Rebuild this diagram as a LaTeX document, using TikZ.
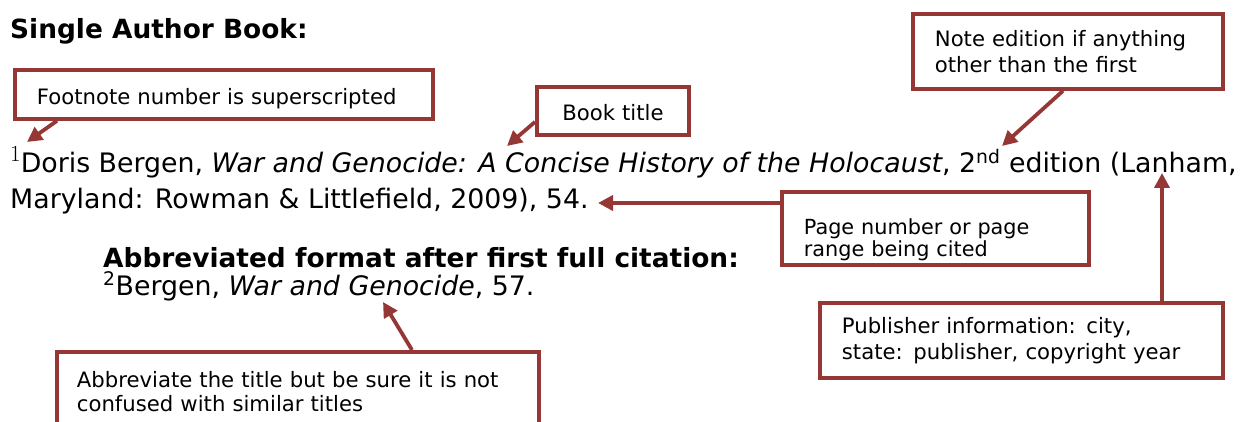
\documentclass[tikz,border=0pt]{standalone}
\usepackage{fontspec}
\usepackage{tikz}
\usetikzlibrary{arrows.meta, positioning}
\newfontfamily\vfont{DejaVu Sans}
\definecolor{notered}{RGB}{149, 55, 53}

\begin{document}
\begin{tikzpicture}[x=1pt, y=-1pt,
    note/.style={draw=notered, line width=3.8pt, anchor=north west, inner ysep=0pt, align=left, font=\vfont\fontsize{21.2}{26}\selectfont},
    cite/.style={anchor=base west, inner sep=0pt, font=\vfont\fontsize{26.8}{32}\selectfont},
    head/.style={anchor=base west, inner sep=0pt, font=\vfont\fontsize{26.4}{32}\selectfont\bfseries},
    pointer/.style={-{Triangle[length=15pt, width=15pt]}, line width=3.8pt, notered}
]
\clip (0,0) rectangle (1241,422);

% Headings
\node[head] (title) at (10,39) {Single Author Book:};
\node[head] (abbrhead) at (103,267) {Abbreviated format after first full citation:};

% Citation text
\node[cite] (cite1) at (10,173) {{\rmfamily\fontsize{23}{23}\selectfont\raisebox{11pt}{1}}Doris Bergen, \textit{War and Genocide: A Concise History of the Holocaust}, 2\textsuperscript{nd} edition (Lanham,};
\node[cite] (cite2) at (10,208) {Maryland: Rowman \& Littlefield, 2009), 54.};
\node[cite] (abbrcite) at (103,295) {\textsuperscript{2}Bergen, \textit{War and Genocide}, 57.};

% Note boxes
\node[note, inner xsep=22pt, text width=374pt, minimum height=49pt, text height=24pt] (fnbox) at (13,68) {Footnote number is superscripted};
\node[note, inner xsep=10pt, text width=132pt, minimum height=48pt, text height=20pt, align=center] (titlebox) at (535,85) {Book title};
\node[note, inner xsep=22pt, text width=266pt, minimum height=75pt] (edbox) at (911,12) {Note edition if anything\\other than the first};
\node[note, inner xsep=22pt, text width=263pt, minimum height=73pt, text height=38pt, font=\vfont\fontsize{20.8}{22}\selectfont] (pagebox) at (780,190) {Page number or page\\range being cited};
\node[note, inner xsep=22pt, text width=359pt, minimum height=75pt] (pubbox) at (818,301) {Publisher information: city,\\state: publisher, copyright year};
\node[note, inner xsep=20pt, text width=442pt, minimum height=80pt, font=\vfont\fontsize{21.2}{24}\selectfont] (abbrbox) at (55,350) {Abbreviate the title but be sure it is not\\confused with similar titles};

% Arrow targets
\coordinate (fnmark) at (27,142);
\coordinate (titlemark) at (507,146);
\coordinate (edmark) at (1002,146);
\coordinate (pagemark) at (598,203);
\coordinate (pubmark) at (1162,173);
\coordinate (abbrmark) at (383,302);

% Arrows
\draw[pointer] ([xshift=44pt]fnbox.south west) -- (fnmark);
\draw[pointer] ([yshift=-11pt]titlebox.west) -- (titlemark);
\draw[pointer] ([xshift=152pt]edbox.south west) -- (edmark);
\draw[pointer] ([yshift=-13pt]pagebox.north west) -- (pagemark);
\draw[pointer] ([xshift=344pt]pubbox.north west) -- (pubmark);
\draw[pointer] ([xshift=357pt]abbrbox.north west) -- (abbrmark);

\end{tikzpicture}
\end{document}
